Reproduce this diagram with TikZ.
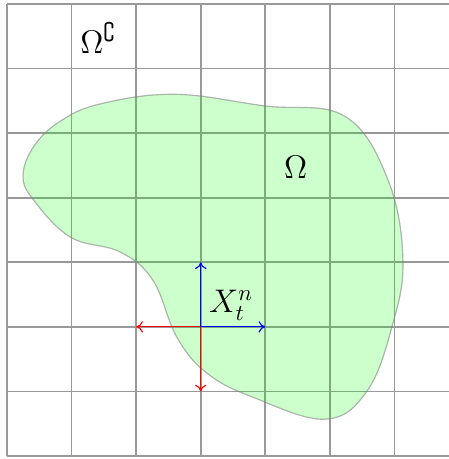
\documentclass[tikz,border=0pt]{standalone}
\usepackage{amsmath, amssymb}
\usepackage{tikz}
\usetikzlibrary{arrows.meta}

\tikzset{
  gridline/.style={draw=gray!80, line width=0.8pt},
  region/.style={fill=green, fill opacity=0.2, draw=gray, draw opacity=0.35, line width=0.5pt},
  move/.style={-{To[length=3pt,width=5pt]}, line width=0.5pt}
}

\begin{document}
\begin{tikzpicture}
\useasboundingbox (-0.108,-0.046) rectangle (6.84,7.06);
\clip (-0.108,-0.046) rectangle (6.84,7.06);

\draw[gridline] (0,0) grid (7,7);

\fill[region] plot[smooth cycle, tension=0.65] coordinates {
  (0.82,5.18) (1.44,5.45) (2.60,5.60) (3.99,5.42) (5.23,5.26)
  (5.90,4.27) (6.13,3.03) (5.96,2.00) (5.57,1.00) (4.92,0.57)
  (3.81,0.91) (3.10,1.28) (2.63,1.84) (2.26,2.72) (1.75,3.16)
  (0.98,3.39) (0.40,3.98) (0.25,4.35) (0.42,4.80)};
\draw[region, fill=none] plot[smooth cycle, tension=0.65] coordinates {
  (0.82,5.18) (1.44,5.45) (2.60,5.60) (3.99,5.42) (5.23,5.26)
  (5.90,4.27) (6.13,3.03) (5.96,2.00) (5.57,1.00) (4.92,0.57)
  (3.81,0.91) (3.10,1.28) (2.63,1.84) (2.26,2.72) (1.75,3.16)
  (0.98,3.39) (0.40,3.98) (0.25,4.35) (0.42,4.80)};

% labels
\node (compl) at (1.41,6.47) {\Large $\Omega^{\complement}$};
\node (omega) at (4.47,4.47) {\Large $\Omega$};
\node (xtn) at (3.47,2.34) {\Large $X_t^n$};

% moves of the walk
\coordinate (x0) at (3,2);
\coordinate (xl) at (2,2);
\coordinate (xd) at (3,1);
\coordinate (xr) at (4,2);
\coordinate (xu) at (3,3);
\draw[move, red] (x0) -- (xl);
\draw[move, red] (x0) -- (xd);
\draw[move, blue] (x0) -- (xr);
\draw[move, blue] (x0) -- (xu);

\end{tikzpicture}
\end{document}
